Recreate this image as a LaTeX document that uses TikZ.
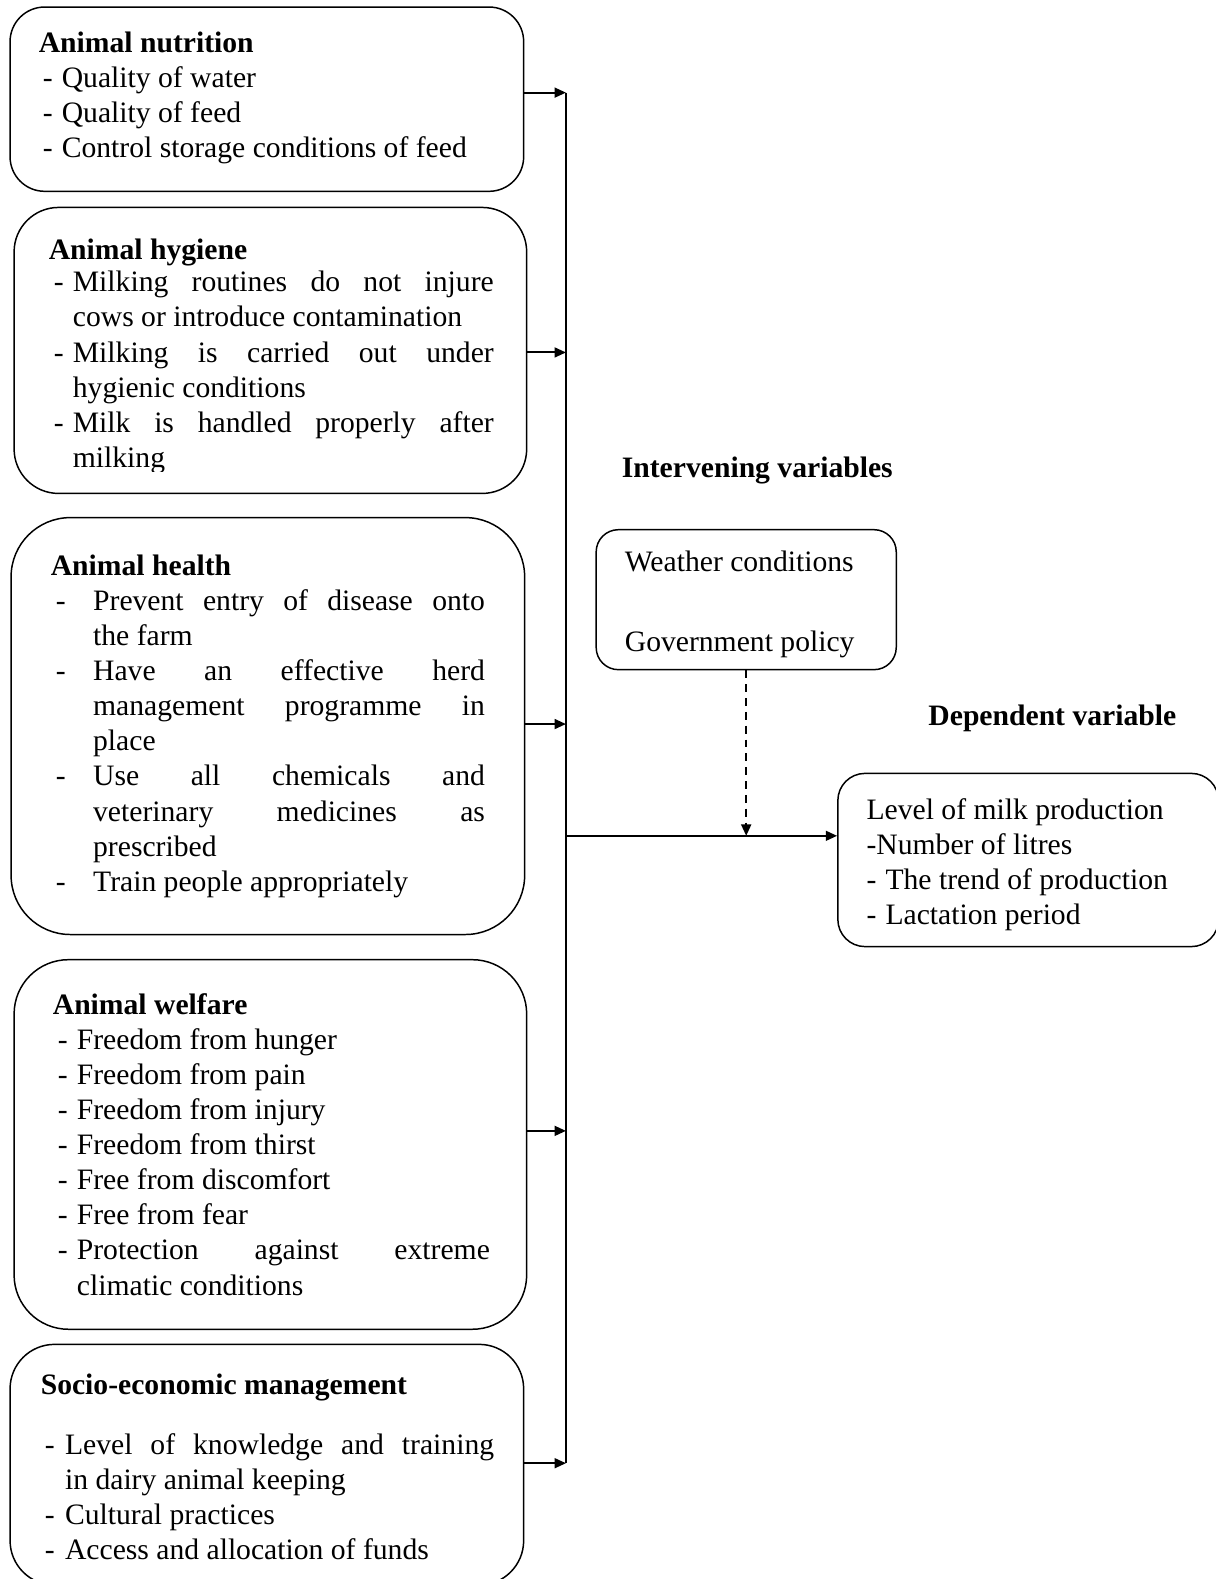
\documentclass[tikz,border=0pt]{standalone}
\usepackage{fontspec}
\setmainfont{Liberation Serif}
\usetikzlibrary{arrows.meta,fit,positioning}

\newcommand{\hy}[1][7.7pt]{\makebox[#1][l]{-}}
\newcommand{\ind}[1][7.7pt]{\hspace*{#1}}
\newcommand{\jl}[2]{\makebox[#1][s]{#2}}

\begin{document}
\begin{tikzpicture} [x=0.4077pt,y=-0.4077pt,{box/.style={rectangle,draw=black,line width=0.6pt,rounded corners=#1,inner sep=0pt}},{box/.default=14pt},{txt/.style={anchor=base west,inner sep=0pt,align=left,font=\fontsize{12}{14.2}\selectfont}},{hd/.style={anchor=base,inner sep=0pt,font=\fontsize{12}{14.2}\selectfont\bfseries}},{linest/.style={color=black,line width=0.8pt}},{arr/.style={linest,-{Triangle[length=4.6pt,width=4pt]}}}]
		\useasboundingbox (0,0) rectangle (1207,1568);
		%%independent variable boxes (text nodes sit on their last baseline)
		\node [box=14pt,fit={(10,7) (520,190)}] (nutr) {};
		\node [txt,font=\fontsize{12}{14.2}\selectfont\bfseries] at (38,52) (nutrhd) {Animal nutrition};
		\node [txt,font=\fontsize{12}{14}\selectfont] at (42,156) (nutrtxt) {\hy Quality of water\\ \hy Quality of feed\\ \hy Control storage conditions of feed};

		\node [box=18pt,fit={(14,206) (523,490)}] (hyg) {};
		\node [txt,font=\fontsize{12}{14.2}\selectfont\bfseries] at (48,258) (hyghd) {Animal hygiene};
		\begin{scope}
		\clip (0,0) rectangle (1207,468);
		\node [txt] at (53,464) (hygtxt) {\hy\jl{170.4pt}{Milking routines do not injure}\\ \ind cows or introduce contamination\\ \hy\jl{170.4pt}{Milking is carried out under}\\ \ind hygienic conditions\\ \hy\jl{170.4pt}{Milk is handled properly after}\\ \ind milking};
		\end{scope}

		\node [box=24pt,fit={(11,514) (521,928)}] (hlth) {};
		\node [txt,font=\fontsize{12}{14.2}\selectfont\bfseries] at (50,571) (hlthhd) {Animal health};
		\node [txt] at (55,885) (hlthtxt) {\hy[15.1pt]\jl{158.6pt}{Prevent entry of disease onto}\\ \ind[15.1pt]the farm\\ \hy[15.1pt]\jl{158.6pt}{Have an effective herd}\\ \ind[15.1pt]\jl{158.6pt}{management programme in}\\ \ind[15.1pt]place\\ \hy[15.1pt]\jl{158.6pt}{Use all chemicals and}\\ \ind[15.1pt]\jl{158.6pt}{veterinary medicines as}\\ \ind[15.1pt]prescribed\\ \hy[15.1pt]Train people appropriately};

		\node [box=22pt,fit={(14,953) (523,1320)}] (welf) {};
		\node [txt,font=\fontsize{12}{14.2}\selectfont\bfseries] at (52,1007) (welfhd) {Animal welfare};
		\node [txt] at (57,1286) (welftxt) {\hy Freedom from hunger\\ \hy Freedom from pain\\ \hy Freedom from injury\\ \hy Freedom from thirst\\ \hy Free from discomfort\\ \hy Free from fear\\ \hy\jl{167.2pt}{Protection against extreme}\\ \ind climatic conditions};

		\node [box=18pt,fit={(10,1335) (520,1574)}] (socio) {};
		\node [txt,font=\fontsize{12}{14.2}\selectfont\bfseries] at (40,1385) (sociohd) {Socio-economic management};
		\node [txt] at (44,1549) (sociotxt) {\hy[8.2pt]\jl{173.7pt}{Level of knowledge and training}\\ \ind[8.2pt]in dairy animal keeping\\ \hy[8.2pt]Cultural practices\\ \hy[8.2pt]Access and allocation of funds};

		%%intervening and dependent
		\node [hd] at (752,474) (intvhd) {Intervening variables};
		\node [box=9pt,fit={(592,526) (890,665)}] (wthr) {};
		\node [txt] at (620,647) (wthrtxt) {Weather conditions\\[18.4pt]Government policy};

		\node [hd] at (1045,720) (dephd) {Dependent variable};
		\node [box=11pt,fit={(832,768) (1210,940)}] (dep) {};
		\node [txt] at (860,918) (deptxt) {Level of milk production\\ -Number of litres\\ \hy The trend of production\\ \hy Lactation period};

		%%connectors
		\coordinate (j1) at (562,92);
		\coordinate (j2) at (562,350);
		\coordinate (j3) at (562,719);
		\coordinate (j4) at (562,1123);
		\coordinate (j5) at (562,1453);
		\coordinate (jout) at (562,830);
		\draw [linest] (j1) -- (j5);
		\draw [arr] (nutr.east |- j1) -- (j1);
		\draw [arr] (hyg.east |- j2) -- (j2);
		\draw [arr] (hlth.east |- j3) -- (j3);
		\draw [arr] (welf.east |- j4) -- (j4);
		\draw [arr] (socio.east |- j5) -- (j5);
		\draw [arr] (jout) -- (dep.west |- jout);
		\draw [arr,dash pattern=on 3.2pt off 2.4pt] (wthr.south) -- (wthr.south |- jout);
	\end{tikzpicture}
\end{document}
